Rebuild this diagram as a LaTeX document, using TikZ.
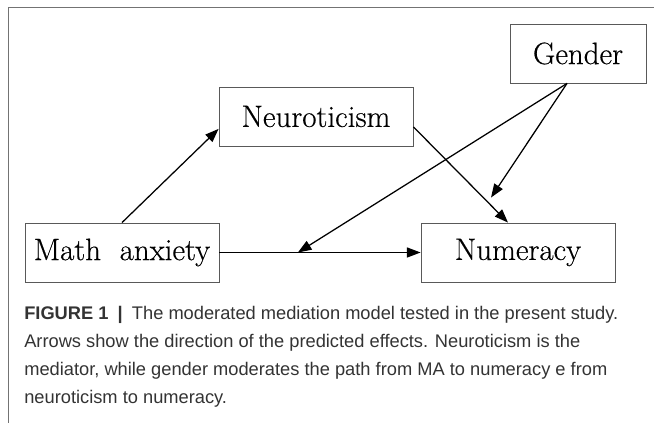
\documentclass[tikz,border=0pt]{standalone}
\usepackage{fontspec}
\newfontfamily\capfont{Liberation Sans}
\newfontfamily\boxfont[FakeBold=0.4]{Latin Modern Roman}
\usetikzlibrary{arrows.meta,calc}

\tikzset{
  box/.style={draw=black!65, line width=0.6pt, minimum width=4.85cm,
              minimum height=1.475cm, font=\boxfont\fontsize{22}{26}\selectfont},
  capline/.style={anchor=base west, inner sep=0pt,
                  font=\capfont\fontsize{13}{19}\selectfont, text=black!80},
}

\begin{document}
\begin{tikzpicture}[>={Triangle[length=0.34cm,width=0.25cm]}]

    \useasboundingbox (0,0) rectangle (16.35,10.575);

    % Bingkai
    \draw[black!55, line width=0.6pt] (0.2,0) -- (0.2,10.4) -- (16.35,10.4);

    % Kotak variabel
    \node[box] (mathanx) at (3.05,4.2625) {Math\ \ anxiety};
    \node[box] (neuro) at (7.9,7.6625) {Neuroticism};
    \node[box] (numer) at (12.95,4.2625) {Numeracy};
    \node[box, minimum width=3.4cm] (gender) at (14.45,9.2375) {Gender};

    % Titik ujung panah moderasi
    \coordinate (modpt) at ($(mathanx.east)!0.39!(numer.west)$);
    \coordinate (gtip) at ([xshift=-0.675cm,yshift=0.625cm]numer.north);

    % Panah
    \draw[->, line width=0.9pt] (mathanx.north) -- ([yshift=-0.31cm]neuro.west);
    \draw[->, line width=0.9pt] ([yshift=-0.26cm]neuro.east) -- ([xshift=-0.25cm]numer.north);
    \draw[->, line width=0.9pt] (mathanx.east) -- (numer.west);
    \draw[->, line width=0.9pt] ([xshift=-0.275cm]gender.south) -- (gtip);
    \draw[->, line width=0.9pt] ([xshift=-0.275cm]gender.south) -- (modpt);

    % Keterangan gambar
    \node[capline] (cap1) at (0.6,2.575) {\textbf{FIGURE 1}\enspace\textbf{|}\enspace The moderated mediation model tested in the present study.};
    \node[capline] (cap2) at (0.6,1.875) {Arrows show the direction of the predicted effects. Neuroticism is the};
    \node[capline] (cap3) at (0.6,1.175) {mediator, while gender moderates the path from MA to numeracy e from};
    \node[capline] (cap4) at (0.6,0.475) {neuroticism to numeracy.};

\end{tikzpicture}
\end{document}
